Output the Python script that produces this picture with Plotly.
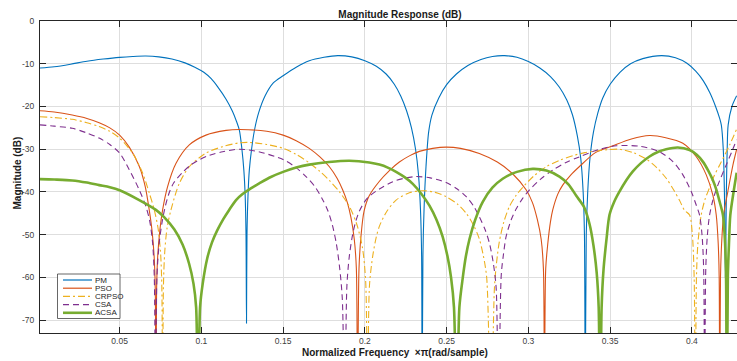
import plotly.graph_objects as go

# ---------------- data ----------------
pm_f = [0.0013, 0.01, 0.02, 0.03, 0.04, 0.05, 0.058, 0.066, 0.074, 0.082, 0.09, 0.096, 0.1015, 0.106,
        0.11, 0.1151, 0.119, 0.1215, 0.1232, 0.1248, 0.126, 0.1268, 0.1273, 0.1276,
        0.1279, 0.1285, 0.1293, 0.1307, 0.1325, 0.135, 0.139, 0.144, 0.15, 0.158, 0.166, 0.175, 0.1834,
        0.192, 0.2, 0.207, 0.213, 0.218, 0.222, 0.2255, 0.2285, 0.231, 0.2328, 0.234, 0.2347, 0.235,
        0.2355, 0.2362, 0.2374, 0.239, 0.241, 0.2452, 0.25, 0.256, 0.263, 0.271, 0.278, 0.2854,
        0.293, 0.3, 0.307, 0.3135, 0.319, 0.3235, 0.327, 0.33, 0.332, 0.3335, 0.3343, 0.3348,
        0.3354, 0.3363, 0.3377, 0.3398, 0.3425, 0.3455, 0.35, 0.356, 0.3625, 0.37, 0.3815,
        0.39, 0.397, 0.4025, 0.407, 0.411, 0.4145, 0.417, 0.418, 0.4192, 0.4199, 0.4205,
        0.4211, 0.4216, 0.4222, 0.4245, 0.4274]
pm_db = [-11.0, -10.7, -10.1, -9.4, -8.9, -8.5, -8.3, -8.2, -8.4, -8.9, -9.8, -10.8, -12.0, -13.5,
         -15.4, -18.3, -21.1, -23.5, -25.5, -30, -35, -41, -50, -70.7,
         -50, -41, -35, -30, -25.5, -21.5, -17.5, -14.5, -12.8, -10.8, -9.3, -8.5, -8.1,
         -8.4, -9.3, -10.6, -12.4, -14.8, -17.6, -21, -25, -30, -36, -44, -55, -95,
         -55, -44, -34, -26, -22, -18, -14.9, -12.4, -10.4, -9.0, -8.3, -8.1,
         -8.5, -9.5, -11.0, -13.0, -15.5, -18.5, -22, -27, -32, -40, -50, -95,
         -50, -40, -32, -26, -21.5, -18, -14.8, -12.0, -10.0, -8.8, -8.1,
         -8.6, -9.9, -11.8, -14.0, -16.8, -20.0, -22.8, -24.3, -30, -40, -60,
         -40, -30, -24.3, -20, -17.5]

pso_f = [0.0013, 0.01, 0.021, 0.03, 0.0375, 0.044, 0.05, 0.0559, 0.062, 0.0657, 0.0681, 0.0698, 0.0711,
         0.0718, 0.0722, 0.0726, 0.0733, 0.0746, 0.0763, 0.0793, 0.0845, 0.0926, 0.1028, 0.1151,
         0.1232, 0.14, 0.15, 0.158, 0.166, 0.1725, 0.1783, 0.183, 0.1864, 0.1893, 0.1915, 0.1935,
         0.1948, 0.1955, 0.1964, 0.1977, 0.1995, 0.2025, 0.2089, 0.215, 0.2211, 0.2275, 0.2333,
         0.2415, 0.2497, 0.2585, 0.27, 0.281, 0.2905, 0.2986, 0.3025, 0.3055, 0.3078, 0.3092,
         0.3098, 0.3106, 0.3119, 0.3135, 0.3149, 0.318, 0.321, 0.326, 0.3311, 0.341, 0.3516,
         0.363, 0.3741, 0.384, 0.3945, 0.4026, 0.4088, 0.4128, 0.4149, 0.4161, 0.4167, 0.417,
         0.4175, 0.4182, 0.4194, 0.422, 0.4251, 0.4274]
pso_db = [-21.0, -21.3, -22.0, -22.8, -23.8, -25.0, -26.7, -29.5, -34.0, -38.8, -44.2, -49, -55,
          -63, -95, -63, -55, -49, -44.2, -38.8, -33.3, -29.0, -26.7, -25.6,
          -25.4, -25.8, -26.7, -28.0, -29.8, -31.8, -34.1, -36.8, -39.5, -42.5, -46.0, -51,
          -58, -95, -58, -50, -44.5, -41.0, -37.5, -35.0, -33.0, -31.5, -30.5,
          -29.8, -29.5, -29.8, -31.0, -33.0, -35.8, -39.5, -42.5, -46.5, -51, -58,
          -95, -58, -52, -47, -44.2, -40.5, -38.4, -36.0, -34.1, -30.8, -29.2,
          -27.6, -26.8, -27.3, -28.6, -31.7, -36.0, -40.7, -45.4, -52, -60, -95,
          -60, -52, -45.4, -39.9, -33.7, -30.0]

crpso_f = [0.0013, 0.01, 0.021, 0.03, 0.0375, 0.044, 0.05, 0.0579, 0.064, 0.0681, 0.0712, 0.0735,
           0.075, 0.0758, 0.0763, 0.0768, 0.0776, 0.079, 0.0814, 0.0865, 0.0926, 0.1028, 0.113, 0.1232,
           0.1293, 0.14, 0.15, 0.158, 0.166, 0.1725, 0.1783, 0.1845, 0.1905, 0.195, 0.1985, 0.2005,
           0.2016, 0.2028, 0.2048, 0.207, 0.2089, 0.213, 0.2191, 0.2272, 0.2354, 0.243, 0.2497,
           0.2565, 0.262, 0.2665, 0.27, 0.2725, 0.2745, 0.2772, 0.2793, 0.281, 0.2823, 0.285,
           0.2884, 0.2925, 0.2966, 0.3035, 0.3109, 0.319, 0.3272, 0.3345, 0.3415, 0.3485, 0.3557,
           0.364, 0.3721, 0.3785, 0.3843, 0.389, 0.3925, 0.3955, 0.3986, 0.4003, 0.4014, 0.4021,
           0.4028, 0.4037, 0.4057, 0.408, 0.4108, 0.4135, 0.417, 0.4231, 0.4274]
crpso_db = [-22.4, -22.6, -23.0, -23.8, -24.7, -25.8, -27.4, -30.9, -35.5, -40.2, -44.2, -48.5,
            -54, -62, -95, -62, -54, -48.5, -44.2, -38.0, -34.1, -30.9, -29.4, -28.5,
            -28.4, -28.9, -29.8, -31.2, -33.2, -35.2, -37.3, -40.0, -43.4, -47.5, -53, -61,
            -95, -62, -55, -50.5, -48, -44.8, -41.9, -40.2, -39.7, -40.1, -41.1,
            -42.8, -45.0, -47.8, -51.0, -55, -60, -95, -62, -55, -51.5, -47,
            -43.4, -40.8, -38.9, -36.2, -34.1, -32.6, -31.5, -30.8, -30.4, -30.1, -30.0,
            -30.8, -32.3, -34.3, -36.8, -39.6, -42.0, -44.3, -45.4, -50, -60, -95,
            -60, -52, -45.4, -41.8, -39.0, -36.3, -33.7, -29.0, -25.3]

csa_f = [0.0013, 0.01, 0.021, 0.03, 0.0375, 0.044, 0.05, 0.0559, 0.062, 0.0661, 0.0685, 0.0702,
         0.0712, 0.072, 0.0728, 0.0742, 0.076, 0.0779, 0.0805, 0.0832, 0.0885, 0.0935, 0.0987,
         0.105, 0.113, 0.1232, 0.135, 0.15, 0.1575, 0.164, 0.1695, 0.1742, 0.1775, 0.1803, 0.1825,
         0.1845, 0.1862, 0.1877, 0.189, 0.1905, 0.1925, 0.1945, 0.1966, 0.2, 0.2027, 0.2089,
         0.2171, 0.224, 0.2313, 0.24, 0.2497, 0.2565, 0.262, 0.2665, 0.27, 0.2735, 0.2762, 0.2785,
         0.2803, 0.2817, 0.2834, 0.2848, 0.2864, 0.2895, 0.2925, 0.2965, 0.3007, 0.3075, 0.3149,
         0.323, 0.3311, 0.339, 0.3436, 0.3537, 0.368, 0.3802, 0.3884, 0.3945, 0.3996, 0.4026,
         0.4047, 0.4062, 0.4072, 0.4078, 0.4085, 0.4095, 0.4108, 0.4128, 0.4159, 0.421, 0.4245,
         0.4274]
csa_db = [-24.3, -24.6, -25.1, -26.2, -27.4, -28.9, -30.9, -34.8, -39.5, -43.4, -47, -52,
          -60, -95, -60, -52, -47, -43.4, -40.0, -37.8, -35.4, -33.7, -32.5,
          -31.4, -30.6, -30.0, -30.6, -32.4, -34.2, -36.4, -38.8, -41.8, -44.5, -48, -52,
          -57.5, -65, -95, -62, -55, -50, -46.8, -44.5, -42.2, -41.0, -39.3,
          -37.6, -36.8, -36.4, -36.7, -37.8, -39.3, -41.1, -43.3, -45.8, -48.8, -52.0, -56.5,
          -62.5, -95, -59.5, -54.5, -50.4, -46.5, -44.0, -41.5, -39.5, -37.0, -34.9,
          -33.1, -31.8, -30.6, -30.0, -29.2, -29.3, -30.6, -32.9, -36.0, -39.9, -43.0,
          -45.4, -50, -58, -95, -58, -50, -45.5, -42.0, -38.4, -33.7, -30.5,
          -27.8]

acsa_f = [0.0013, 0.01, 0.021, 0.03, 0.0375, 0.044, 0.05, 0.062, 0.0722, 0.0775, 0.0835, 0.0885,
          0.0925, 0.0952, 0.0968, 0.098, 0.0992, 0.1008, 0.1036, 0.1065, 0.1097, 0.1135, 0.117,
          0.1212, 0.1252, 0.1305, 0.1354, 0.1425, 0.15, 0.158, 0.166, 0.178, 0.1905, 0.2027, 0.2089,
          0.214, 0.2191, 0.2245, 0.2293, 0.2345, 0.2395, 0.2438, 0.2476, 0.2505, 0.2527, 0.2545,
          0.2562, 0.2578, 0.2599, 0.2618, 0.264, 0.2675, 0.2721, 0.278, 0.2843, 0.293, 0.3027,
          0.311, 0.319, 0.3245, 0.3293, 0.334, 0.3374, 0.3398, 0.3418, 0.343, 0.3439, 0.3448,
          0.346, 0.3478, 0.3496, 0.3525, 0.3556, 0.36, 0.3639, 0.369, 0.3741, 0.3795, 0.3843,
          0.3914, 0.3986, 0.403, 0.4067, 0.41, 0.4128, 0.415, 0.417, 0.419, 0.4203, 0.4209,
          0.4214, 0.422, 0.4227, 0.4235, 0.4255, 0.4274]
acsa_db = [-37.0, -37.1, -37.3, -37.8, -38.4, -38.9, -39.6, -41.9, -44.2, -46.0, -48.8, -52.3,
           -56.8, -61.5, -67, -95, -67, -61.5, -55.5, -51.8, -49.0, -46.3, -44.2,
           -41.9, -40.5, -39.1, -38.0, -36.5, -35.3, -34.3, -33.6, -33.0, -32.7, -33.1, -33.6,
           -34.3, -35.3, -36.6, -38.1, -40.4, -43.2, -46.5, -50.5, -55, -60, -67,
           -95, -67, -60, -55, -51, -46.5, -42.3, -39.0, -36.9, -35.3, -34.6,
           -35.0, -36.4, -38.2, -40.9, -43.5, -47.5, -52.5, -59, -67, -95, -67,
           -58, -51, -45.4, -42.3, -40.0, -37.2, -35.2, -33.2, -31.7, -30.6, -30.0,
           -29.6, -30.2, -31.3, -32.9, -35.0, -37.2, -39.5, -42.3, -45.4, -52, -60,
           -95, -60, -52, -45.4, -40, -35.5]

series_names = ["PM", "PSO", "CRPSO", "CSA", "ACSA"]
x_tickvals = [0.05, 0.1, 0.15, 0.2, 0.25, 0.3, 0.35, 0.4]
x_ticktext = ["0.05", "0.1", "0.15", "0.2", "0.25", "0.3", "0.35", "0.4"]
y_tickvals = [0, -10, -20, -30, -40, -50, -60, -70]
y_ticktext = ["0", "-10", "-20", "-30", "-40", "-50", "-60", "-70"]

# ---------------- styling ----------------
W, H = 737, 361
ML, MR, MT, MB = 40, 0, 21, 28
PW, PH = W - ML - MR, H - MT - MB

def px2x(px):
    return (px - ML) / PW

def py2y(py):
    return (H - MB - py) / PH

styles = [
    dict(color="#0072BD", width=1.1, dash="solid"),
    dict(color="#D95319", width=1.1, dash="solid"),
    dict(color="#EDB120", width=1.1, dash="7px,3px,2px,3px"),
    dict(color="#7E2F8E", width=1.1, dash="6px,4px"),
    dict(color="#77AC30", width=2.6, dash="solid"),
]
data = [(pm_f, pm_db), (pso_f, pso_db), (crpso_f, crpso_db), (csa_f, csa_db), (acsa_f, acsa_db)]

fig = go.Figure()
for (fx, fy), name, st in zip(data, series_names, styles):
    fig.add_trace(go.Scatter(x=fx, y=fy, mode="lines", name=name,
                             line=dict(color=st["color"], width=st["width"], dash=st["dash"],
                                       shape="spline", smoothing=0.8),
                             showlegend=False))

FONT = "Liberation Sans, Arial, sans-serif"
AX = "#262626"

axis_common = dict(showline=True, linecolor=AX, linewidth=1, mirror="ticks", ticks="inside",
                   ticklen=6, tickcolor=AX, tickwidth=1, showgrid=True, gridcolor="#dedede",
                   gridwidth=1, zeroline=False, tickfont=dict(family=FONT, size=8.5, color="#404040"))

fig.update_xaxes(range=[0.0013, 0.4276], tickvals=x_tickvals, ticktext=x_ticktext, **axis_common)
fig.update_yaxes(range=[-73, 0], tickvals=y_tickvals, ticktext=y_ticktext, ticklabelstandoff=3,
                 **axis_common)

shapes = []
annotations = []
# custom compact legend
shapes.append(dict(type="rect", xref="paper", yref="paper", x0=px2x(57.5), x1=px2x(120),
                   y0=py2y(318.5), y1=py2y(274), line=dict(color="#404040", width=0.8),
                   fillcolor="white", layer="above"))
rows = [280, 288.2, 296.4, 304.6, 312.8]
for name, st, ry in zip(series_names, styles, rows):
    shapes.append(dict(type="line", xref="paper", yref="paper", x0=px2x(63), x1=px2x(92),
                       y0=py2y(ry), y1=py2y(ry), layer="above",
                       line=dict(color=st["color"], width=st["width"] if st["width"] > 2 else 1.2,
                                 dash=st["dash"])))
    annotations.append(dict(text=name, xref="paper", yref="paper", x=px2x(93), y=py2y(ry),
                            xanchor="left", yanchor="middle", showarrow=False,
                            font=dict(family=FONT, size=8, color="#262626")))

# axis titles
annotations.append(dict(text="<b>Normalized Frequency\u00a0\u00a0×π(rad/sample)</b>", xref="paper",
                        yref="paper", x=px2x(394.5), y=py2y(352.5), xanchor="center",
                        yanchor="middle", showarrow=False, font=dict(family=FONT, size=10, color="#1a1a1a")))
annotations.append(dict(text="<b>Magnitude (dB)</b>", xref="paper", yref="paper", x=px2x(16.5),
                        y=py2y(173), xanchor="center", yanchor="middle", textangle=-90,
                        showarrow=False, font=dict(family=FONT, size=10, color="#1a1a1a")))

fig.update_layout(
    width=W, height=H,
    margin=dict(l=ML, r=MR, t=MT, b=MB),
    paper_bgcolor="white", plot_bgcolor="white",
    title=dict(text="<b>Magnitude Response (dB)</b>", x=400 / W, xanchor="center",
               y=1 - 14.5 / H, yanchor="middle", font=dict(family=FONT, size=10, color="#1a1a1a")),
    shapes=shapes, annotations=annotations, showlegend=False,
)

fig.write_html("out.html", config={"displayModeBar": False},
               post_script="document.body.style.margin='0';document.body.style.padding='0';")
